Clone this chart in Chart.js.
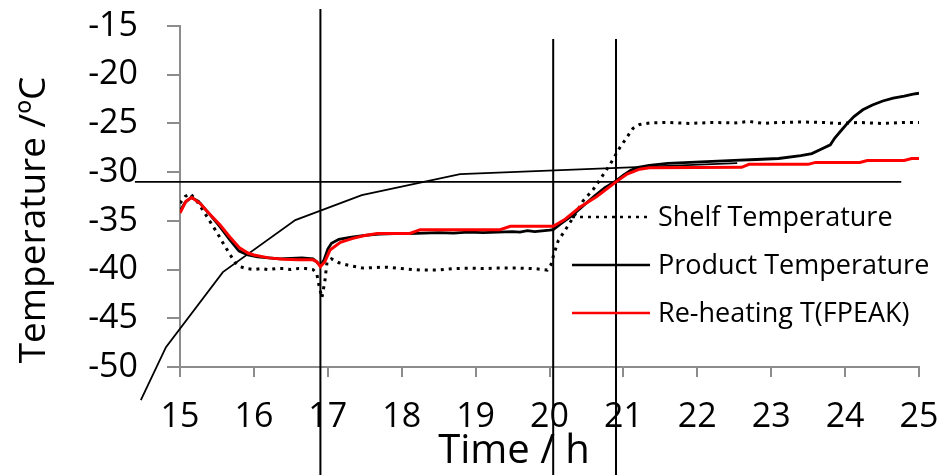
<!DOCTYPE html>
<html>
<head>
<meta charset="utf-8">
<script src="https://cdn.jsdelivr.net/npm/chart.js@4.4.1/dist/chart.umd.min.js"></script>
<style>
  body { margin: 0; background: #fff; }
  #wrap { width: 939px; height: 475px; }
</style>
</head>
<body>
<div id="wrap"><canvas id="chart" width="939" height="475"></canvas></div>
<script>
// time in hours, temperature in degC
const shelfTime = [15.00, 15.07, 15.14, 15.22, 15.31, 15.40, 15.50, 15.60, 15.68, 15.75, 15.81, 15.90, 16.0, 16.1, 16.2, 16.3, 16.4, 16.5, 16.6, 16.7, 16.8, 16.85, 16.88, 16.92, 16.96, 16.99, 17.05, 17.15, 17.3, 17.48, 17.6, 17.8, 18.0, 18.25, 18.5, 18.7, 18.92, 19.1, 19.3, 19.6, 19.8, 19.97, 20.02, 20.06, 20.12, 20.2, 20.35, 20.45, 20.59, 20.68, 20.82, 20.95, 21.05, 21.13, 21.22, 21.36, 21.6, 21.9, 22.2, 22.5, 22.7, 22.9, 23.1, 23.4, 23.7, 23.9, 24.2, 24.5, 24.8, 25.0];
const shelfTemp = [-33.2, -32.5, -32.2, -32.9, -33.9, -35.0, -36.2, -37.5, -38.5, -39.3, -39.7, -39.9, -40.0, -39.9, -40.0, -39.9, -39.9, -40.0, -39.9, -39.9, -40.0, -40.4, -41.6, -42.9, -41.2, -39.2, -38.9, -39.3, -39.6, -39.85, -39.8, -39.75, -39.9, -40.05, -40.05, -39.9, -39.85, -39.9, -39.85, -39.85, -39.9, -40.05, -39.5, -38.4, -37.0, -36.1, -34.3, -33.0, -31.8, -30.8, -29.2, -27.5, -26.4, -25.5, -25.1, -24.95, -24.9, -25.0, -24.9, -24.95, -24.8, -25.0, -24.9, -24.85, -24.9, -25.0, -24.9, -25.0, -24.9, -24.9];

const productTime = [15.00, 15.07, 15.15, 15.25, 15.40, 15.54, 15.68, 15.80, 15.92, 16.05, 16.2, 16.35, 16.5, 16.65, 16.8, 16.85, 16.9, 16.95, 17.0, 17.05, 17.15, 17.3, 17.5, 17.7, 17.9, 18.1, 18.3, 18.5, 18.7, 18.9, 19.1, 19.3, 19.5, 19.6, 19.7, 19.8, 20.0, 20.05, 20.15, 20.3, 20.45, 20.6, 20.75, 20.9, 21.0, 21.1, 21.2, 21.35, 21.6, 21.9, 22.2, 22.5, 22.8, 23.1, 23.4, 23.55, 23.66, 23.8, 23.86, 23.95, 24.03, 24.12, 24.24, 24.37, 24.51, 24.65, 24.8, 24.92, 25.0];
const productTemp = [-34.0, -33.1, -32.6, -33.0, -34.3, -35.6, -37.0, -38.1, -38.5, -38.7, -38.8, -38.9, -38.85, -38.8, -38.9, -39.2, -39.6, -39.0, -37.9, -37.3, -36.9, -36.7, -36.5, -36.35, -36.3, -36.3, -36.25, -36.2, -36.25, -36.15, -36.2, -36.15, -36.1, -36.15, -36.0, -36.1, -35.95, -35.9, -35.3, -34.5, -33.5, -32.5, -31.6, -30.9, -30.3, -29.8, -29.5, -29.3, -29.1, -29.0, -28.9, -28.8, -28.7, -28.6, -28.3, -28.1, -27.7, -27.2, -26.5, -25.7, -25.0, -24.3, -23.6, -23.1, -22.7, -22.4, -22.2, -22.0, -21.9];

const reheatTime = [15.00, 15.08, 15.16, 15.27, 15.40, 15.54, 15.68, 15.81, 15.92, 16.0, 16.2, 16.4, 16.6, 16.8, 16.85, 16.9, 16.96, 17.03, 17.17, 17.34, 17.5, 17.67, 18.11, 18.25, 19.33, 19.47, 20.05, 20.2, 20.41, 20.64, 20.9, 21.05, 21.22, 21.35, 22.6, 22.7, 23.5, 23.6, 24.2, 24.3, 24.8, 24.9, 25.0];
const reheatTemp = [-34.2, -33.0, -32.6, -33.2, -34.3, -35.4, -36.7, -37.8, -38.3, -38.5, -38.8, -38.95, -39.0, -39.0, -39.2, -39.7, -39.2, -38.0, -37.2, -36.8, -36.5, -36.3, -36.3, -35.9, -35.9, -35.55, -35.55, -34.9, -33.6, -32.5, -31.0, -30.2, -29.7, -29.55, -29.5, -29.2, -29.2, -29.0, -29.0, -28.8, -28.8, -28.6, -28.6];

// hand drawn construction lines, tangent listed from its upper end down
const tangentTime = [22.54, 18.79, 17.46, 16.56, 15.58, 14.81, 14.47];
const tangentTemp = [-29.07, -30.2, -32.35, -34.92, -40.26, -47.96, -53.4];
const levelTime = [14.39, 24.76];
const levelTemp = [-31, -31];
const markerTimes = [16.9, 20.05, 20.9];
const markerTops = [-13.25, -16.33, -16.33];
const markerBottom = -62;

const xTicks = [15, 16, 17, 18, 19, 20, 21, 22, 23, 24, 25];
const yTicks = [-50, -45, -40, -35, -30, -25, -20, -15];

const FONT = '"Open Sans", Lato, sans-serif';

const pts = (xs, ys) => xs.map((x, i) => ({ x: x, y: ys[i] }));

const datasets = [
  { label: 'Shelf Temperature', data: pts(shelfTime, shelfTemp), borderColor: '#000', borderWidth: 3, borderDash: [3, 5], order: 2 },
  { label: 'Product Temperature', data: pts(productTime, productTemp), borderColor: '#000', borderWidth: 2.8, order: 1 },
  { label: 'Re-heating T(FPEAK)', data: pts(reheatTime, reheatTemp), borderColor: '#ff0000', borderWidth: 3, order: 0 },
  { label: 'tangent', data: pts(tangentTime, tangentTemp), borderColor: '#000', borderWidth: 1.8, clip: false, order: 0 },
  { label: 'level', data: pts(levelTime, levelTemp), borderColor: '#000', borderWidth: 1.8, clip: false, order: 0 },
];
markerTimes.forEach((t, i) => {
  datasets.push({
    label: 'marker ' + (i + 1),
    data: [{ x: t, y: markerTops[i] }, { x: t, y: markerBottom }],
    borderColor: '#000', borderWidth: 2, clip: false, order: 0,
  });
});
datasets.forEach(d => { d.pointRadius = 0; d.tension = 0; d.fill = false; });

// legend inside the plot, drawn from the first three datasets
const legendPlugin = {
  id: 'innerLegend',
  afterDatasetsDraw(chart) {
    const ctx = chart.ctx;
    const rows = [217, 265, 313];
    ctx.save();
    ctx.font = '27px ' + FONT;
    ctx.textBaseline = 'middle';
    ctx.fillStyle = '#000';
    chart.data.datasets.slice(0, 3).forEach((d, i) => {
      ctx.beginPath();
      ctx.strokeStyle = d.borderColor;
      ctx.lineWidth = 2.5;
      ctx.setLineDash(d.borderDash || []);
      ctx.moveTo(572, rows[i]);
      ctx.lineTo(650, rows[i]);
      ctx.stroke();
      ctx.fillText(d.label, 658, rows[i] + 1);
    });
    ctx.restore();
  }
};

// axis titles sit off-centre in the original
const titlePlugin = {
  id: 'axisTitles',
  afterDraw(chart) {
    const ctx = chart.ctx;
    ctx.save();
    ctx.fillStyle = '#000';
    ctx.textAlign = 'center';
    ctx.textBaseline = 'alphabetic';
    ctx.font = '40px ' + FONT;
    ctx.fillText('Time / h', 514, 463);
    ctx.translate(45, 220);
    ctx.rotate(-Math.PI / 2);
    ctx.font = '37px ' + FONT;
    ctx.fillText('Temperature /ºC', 0, 0);
    ctx.restore();
  }
};

new Chart(document.getElementById('chart'), {
  type: 'line',
  data: { datasets: datasets },
  options: {
    responsive: false,
    animation: false,
    layout: { padding: { top: 26, right: 20, left: 0, bottom: 0 } },
    plugins: { legend: { display: false }, tooltip: { enabled: false } },
    scales: {
      x: {
        type: 'linear', min: 15, max: 25,
        afterFit: s => { s.height = 108; s.paddingLeft = 0; s.paddingRight = 0; },
        afterBuildTicks: s => { s.ticks = xTicks.map(v => ({ value: v })); },
        grid: { drawOnChartArea: false, drawTicks: true, tickLength: 10, color: '#8c8c8c', lineWidth: 2 },
        border: { color: '#8c8c8c', width: 2 },
        ticks: { color: '#000', font: { family: FONT, size: 34 }, padding: 20, maxRotation: 0 },
      },
      y: {
        type: 'linear', min: -50, max: -15,
        afterFit: s => { s.width = 180; s.paddingTop = 0; s.paddingBottom = 0; },
        afterBuildTicks: s => { s.ticks = yTicks.map(v => ({ value: v })); },
        grid: { drawOnChartArea: false, drawTicks: true, tickLength: 13, color: '#8c8c8c', lineWidth: 2 },
        border: { color: '#8c8c8c', width: 2 },
        ticks: { color: '#000', font: { family: FONT, size: 34 }, padding: 29 },
      },
    },
  },
  plugins: [legendPlugin, titlePlugin],
});
</script>
</body>
</html>
